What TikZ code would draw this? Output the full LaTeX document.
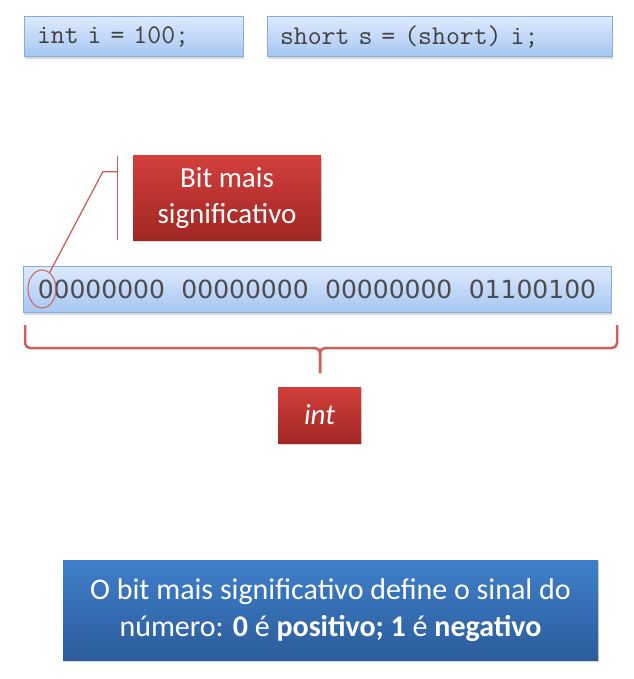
\documentclass[tikz,border=0pt]{standalone}
\usepackage{fontspec}
\setmainfont{Carlito}
\newfontfamily\bitfont{DejaVu Sans}
\usepackage{xcolor}
\usetikzlibrary{calc,positioning,shadows,shapes.geometric}
\definecolor{codetop}{HTML}{DDE9FC}
\definecolor{codebot}{HTML}{A6C6F2}
\definecolor{codeedge}{HTML}{86ACDE}
\definecolor{redtop}{HTML}{D23F3B}
\definecolor{redbot}{HTML}{A12724}
\definecolor{bluetop}{HTML}{3F7FCB}
\definecolor{bluebot}{HTML}{2C5C9A}
\definecolor{callred}{HTML}{CC5F5B}
\tikzset{%
	codebox/.style  = {draw=codeedge, line width=1pt, top color=codetop, bottom color=codebot, minimum height=40, inner xsep=13, align=left, text=black!75, font=\ttfamily\fontsize{27}{28}\selectfont, drop shadow={shadow xshift=1pt, shadow yshift=-2pt, opacity=.3}},
	bitbox/.style   = {draw=codeedge, line width=1pt, top color=codetop, bottom color=codebot, minimum width=588, minimum height=46, text=black!70, font=\bitfont\fontsize{25}{26}\selectfont, drop shadow={shadow xshift=1pt, shadow yshift=-2pt, opacity=.3}},
	redbox/.style   = {top color=redtop, bottom color=redbot, align=center, text=white, font=\fontsize{29}{36}\selectfont, drop shadow={shadow xshift=1pt, shadow yshift=-2pt, opacity=.3}},
	bluebox/.style  = {top color=bluetop, bottom color=bluebot, minimum width=535, minimum height=100, align=center, text=white, font=\fontsize{30}{37}\selectfont, drop shadow={shadow xshift=1pt, shadow yshift=-2pt, opacity=.35}},
	callout/.style  = {draw=callred, line width=1.3pt},
	bracket/.style  = {draw=callred, line width=2.5pt, rounded corners=5},
}
\begin{document}
\begin{tikzpicture}[x=1pt,y=-1pt]
	\useasboundingbox (0,0) rectangle (633,679);
	
	\node[codebox, minimum width=219, text width=193] (decl) at (133.5,37) {int i = 100;};
	\node[codebox, minimum width=345, text width=319] (cast) at (439.5,37) {short s = (short) i;};
	
	\node[redbox, minimum width=188, minimum height=84] (msbnote) at (227,198) {Bit mais\\significativo};
	
	\node[bitbox] (bits) at (317,289.5) {00000000\hspace{16.5pt}00000000\hspace{16.5pt}00000000\hspace{16.5pt}01100100};
	\node[ellipse, draw=callred, line width=1pt, minimum width=28, minimum height=38, inner sep=0pt] (msb) at (42,289) {};
	
	% callout from the first bit to the note
	\coordinate (bartop) at ($(msbnote.north west)+(-15,0)$);
	\coordinate (barbot) at ($(msbnote.south west)+(-15,0)$);
	\coordinate (stub) at ($(bartop)+(-15,16)$);
	\draw[callout] (bartop) -- (barbot);
	\draw[callout] (msb.65) -- (stub) -- ($(bartop)+(0,16)$);
	
	\node[redbox, minimum width=83, minimum height=56, font=\itshape\fontsize{29}{36}\selectfont] (type) at (319.5,415) {int};
	
	\coordinate (bl) at (25,325);
	\coordinate (br) at (617,325);
	\coordinate (tip) at (320,373);
	\draw[bracket] (bl) |- (tip |- 0,348) -- (tip);
	\draw[bracket] (br) |- (tip |- 0,348) -- (tip);
	
	\node[bluebox] (rule) at (330.5,610) {O bit mais significativo define o sinal do\\n\'umero: \textbf{0} \'e \textbf{positivo;} \textbf{1} \'e \textbf{negativo}};
\end{tikzpicture}
\end{document}
